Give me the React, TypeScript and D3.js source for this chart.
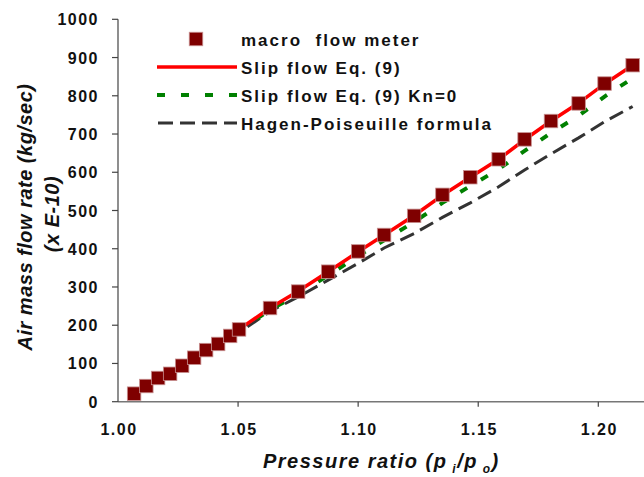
import React from "react";
import * as d3 from "d3";

// pressure ratio at each measurement
const pressureRatio = [
  1.0067, 1.0118, 1.0167, 1.0217, 1.0267, 1.0317, 1.0367, 1.0417, 1.0467, 1.0504,
  1.0633, 1.075, 1.0875, 1.1, 1.1108, 1.1233, 1.1351, 1.1467, 1.1585, 1.1693,
  1.1803, 1.1918, 1.2026, 1.2143,
];
const macroFlowMeter = [
  21, 41, 62, 73, 94, 115, 135, 151, 172, 189, 245, 288, 340, 393, 436, 486, 541,
  587, 634, 686, 734, 780, 832, 880,
];
const slipFlow = [
  21, 41, 62, 73, 94, 115, 135, 151, 172, 189, 245, 289, 340, 392, 436, 487, 540,
  587, 634, 685, 734, 781, 831, 880,
];
const slipFlowKn0 = [
  21, 41, 62, 73, 94, 114, 134, 150, 170, 186, 240, 281, 330, 381, 422, 470, 520,
  564, 608, 656, 703, 748, 798, 846,
];
const hagenPoiseuille = [
  21, 41, 61, 72, 92, 112, 131, 146, 166, 181, 236, 274, 318, 362, 402, 440, 482,
  520, 562, 606, 648, 690, 732, 772,
];
const xTicks = [1.0, 1.05, 1.1, 1.15, 1.2];
const xTickLabels = ["1.00", "1.05", "1.10", "1.15", "1.20"];
const yTicks = [0, 100, 200, 300, 400, 500, 600, 700, 800, 900, 1000];

const legendItems = [
  { label: "macro  flow meter", kind: "marker" },
  { label: "Slip flow Eq. (9)", kind: "red" },
  { label: "Slip flow Eq. (9) Kn=0", kind: "green" },
  { label: "Hagen-Poiseuille formula", kind: "black" },
];

const FONT = "'Liberation Sans', Arial, sans-serif";

export default function App() {
  const width = 644;
  const height = 477;
  const x = d3.scaleLinear().domain([1.0, 1.2]).range([118, 598.3]);
  const y = d3.scaleLinear().domain([0, 1000]).range([401.7, 19.3]);

  const pts = (vals: number[]) => pressureRatio.map((p, i) => [p, vals[i]] as [number, number]);
  const line = d3.line<[number, number]>().x(d => x(d[0])).y(d => y(d[1]));

  const msize = 13.5;

  return (
    <svg width={width} height={height} style={{ position: "absolute", left: 0, top: 0, background: "#fff" }}>
      {/* axes */}
      <line x1={x(1.0)} x2={width} y1={y(0)} y2={y(0)} stroke="#777" strokeWidth={1.5} />
      <line x1={x(1.0)} x2={x(1.0)} y1={y(0)} y2={y(1000)} stroke="#444" strokeWidth={1.2} />
      {xTicks.map((t, i) => (
        <g key={"xt" + i}>
          {i > 0 && <line x1={x(t)} x2={x(t)} y1={y(0)} y2={y(0) + 5} stroke="#444" strokeWidth={1.2} />}
          <text x={x(t) + 1} y={435} textAnchor="middle" fontFamily={FONT} fontWeight="bold"
            fontSize={16} letterSpacing={1.5} fill="#111">{xTickLabels[i]}</text>
        </g>
      ))}
      {yTicks.map((t, i) => (
        <g key={"yt" + i}>
          <line x1={x(1.0) - 6} x2={x(1.0)} y1={y(t)} y2={y(t)} stroke="#444" strokeWidth={1.2} />
          <text x={99} y={y(t) + 6} textAnchor="end" fontFamily={FONT} fontWeight="bold"
            fontSize={16} letterSpacing={1.5} fill="#111">{t}</text>
        </g>
      ))}

      {/* series */}
      <path d={line(pts(hagenPoiseuille)) || ""} fill="none" stroke="#333" strokeWidth={3} strokeDasharray="15 7" />
      <path d={line(pts(slipFlowKn0)) || ""} fill="none" stroke="#008000" strokeWidth={4} strokeDasharray="8 16" />
      <path d={line(pts(slipFlow)) || ""} fill="none" stroke="#ff0000" strokeWidth={3.5} />
      {pressureRatio.map((p, i) => (
        <rect key={"m" + i} x={x(p) - msize / 2} y={y(macroFlowMeter[i]) - msize / 2} width={msize} height={msize}
          fill="#7f0000" stroke="#c89090" strokeWidth={0.8} />
      ))}

      {/* legend */}
      {legendItems.map((item, i) => {
        const ly = 39 + i * 28;
        return (
          <g key={"lg" + i}>
            {item.kind === "marker" && (
              <rect x={196 - msize / 2} y={ly - msize / 2} width={msize} height={msize}
                fill="#7f0000" stroke="#c89090" strokeWidth={0.8} />
            )}
            {item.kind === "red" && <line x1={157} x2={237} y1={ly} y2={ly} stroke="#ff0000" strokeWidth={3.5} />}
            {item.kind === "green" && (
              <line x1={157} x2={237} y1={ly} y2={ly} stroke="#008000" strokeWidth={4} strokeDasharray="8 16" />
            )}
            {item.kind === "black" && (
              <line x1={158} x2={237} y1={ly} y2={ly} stroke="#333" strokeWidth={3} strokeDasharray="15 7" />
            )}
            <text x={241} y={ly + 6.5} fontFamily={FONT} fontWeight="bold" fontSize={17} letterSpacing={2}
              fill="#111" style={{ whiteSpace: "pre" }}>{item.label}</text>
          </g>
        );
      })}

      {/* axis titles */}
      <text transform="translate(32,217) rotate(-90)" textAnchor="middle" fontFamily={FONT} fontWeight="bold"
        fontStyle="italic" fontSize={20} letterSpacing={0.5} fill="#111">Air mass flow rate (kg/sec)</text>
      <text transform="translate(59,214) rotate(-90)" textAnchor="middle" fontFamily={FONT} fontWeight="bold"
        fontStyle="italic" fontSize={20} letterSpacing={0.5} fill="#111">(x E-10)</text>
      <text x={263} y={468} fontFamily={FONT} fontWeight="bold" fontStyle="italic" fontSize={20}
        letterSpacing={1.5} fill="#111">
        Pressure ratio (p
        <tspan fontSize={12} dy={5}> i</tspan>
        <tspan dy={-5}>/p</tspan>
        <tspan fontSize={12} dy={5}> o</tspan>
        <tspan dy={-5}>)</tspan>
      </text>
    </svg>
  );
}
